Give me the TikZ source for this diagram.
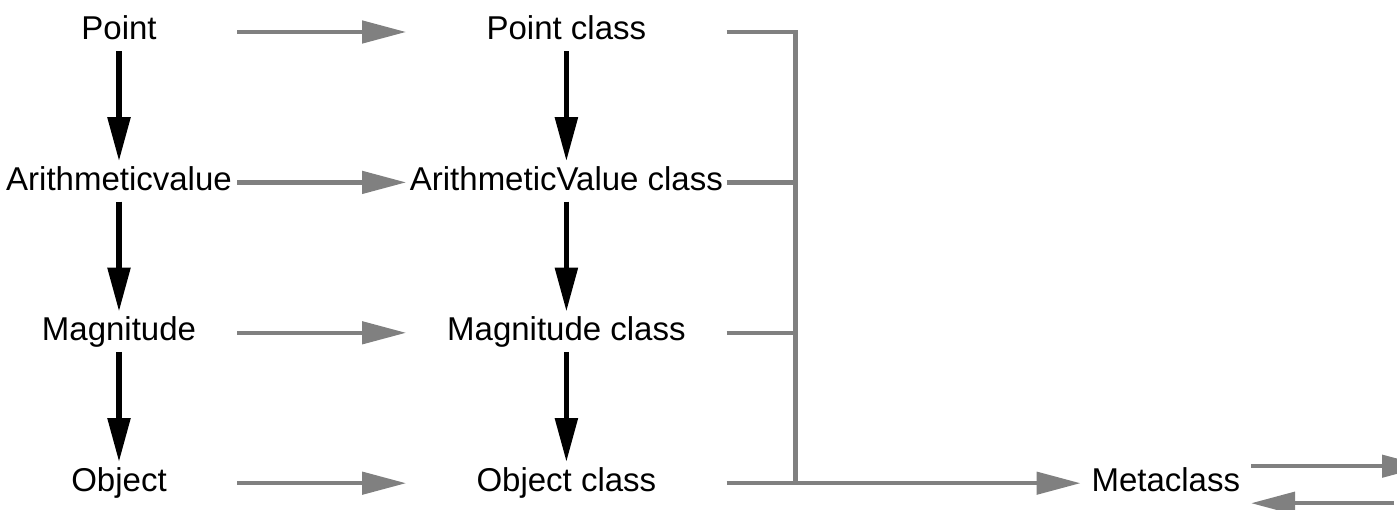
\documentclass[tikz,border=0pt]{standalone}
\usepackage{fontspec}
\setmainfont{Liberation Sans}
\usetikzlibrary{arrows.meta,positioning}
\definecolor{linkGray}{RGB}{128,128,128}
\tikzset{
  box/.style={inner xsep=0pt, inner ysep=4pt, text height=23pt, text depth=7pt, font=\fontsize{33}{39}\selectfont},
  inst/.style={box, minimum width=236pt},
  klass/.style={box, minimum width=320pt},
  meta/.style={box, minimum width=170pt},
  inh/.style={-{Triangle[length=44pt,width=22pt]}, line width=5.5pt, shorten >=2pt},
  link/.style={-{Triangle[length=44pt,width=22pt]}, line width=4.5pt, color=linkGray},
  bus/.style={line width=4.5pt, color=linkGray}
}

\begin{document}
\begin{tikzpicture}[x=1pt, y=-1pt, node distance=112pt and 169pt]
  \useasboundingbox (0,0) rectangle (1397,510);
  \node[inst] (pt) at (119,32) {Point};
  \node[klass, right=of pt] (ptc) {Point class};
  \node[inst, below=of pt] (av) {Arithmeticvalue};
  \node[klass, right=of av] (avc) {ArithmeticValue class};
  \node[inst, below=of av] (mg) {Magnitude};
  \node[klass, right=of mg] (mgc) {Magnitude class};
  \node[inst, below=of mg] (ob) {Object};
  \node[klass, right=of ob] (obc) {Object class};
  \node[meta, right=354pt of obc] (mc) {Metaclass};
  \coordinate[right=69pt of ptc.east] (busTop);
  \coordinate (busBot) at (busTop |- obc.east);
  \coordinate[above right=17pt and 175pt of mc.east] (outR);
  \coordinate[below right=20pt and 143pt of mc.east] (inR);

  % instances
  \draw[inh] (pt) -- (av);
  \draw[inh] (av) -- (mg);
  \draw[inh] (mg) -- (ob);
  \draw[link] (pt) -- (ptc);
  \draw[link] (av) -- (avc);
  \draw[link] (mg) -- (mgc);
  \draw[link] (ob) -- (obc);

  % classes
  \draw[inh] (ptc) -- (avc);
  \draw[inh] (avc) -- (mgc);
  \draw[inh] (mgc) -- (obc);
  \draw[bus] (ptc) -| (busBot);
  \draw[bus] (avc) -- (avc -| busTop);
  \draw[bus] (mgc) -- (mgc -| busTop);
  \draw[link] (obc) -- (mc);
  \draw[link] ([yshift=17pt]mc.east) -- (outR);
  \draw[link] (inR) -- ([yshift=-20pt]mc.east);
\end{tikzpicture}
\end{document}
